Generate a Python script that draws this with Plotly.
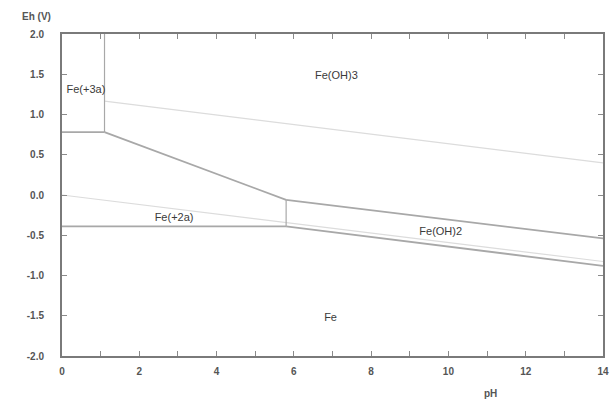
import plotly.graph_objects as go

# Boundary lines (pH, Eh)
fe3_fe2_ph = [0, 1.1]
fe3_fe2_eh = [0.78, 0.78]
fe3_feoh3_ph = [1.1, 1.1]
fe3_feoh3_eh = [0.78, 2.0]
fe2_feoh3_ph = [1.1, 5.8]
fe2_feoh3_eh = [0.78, -0.06]
feoh2_feoh3_ph = [5.8, 14]
feoh2_feoh3_eh = [-0.06, -0.54]
fe2_feoh2_ph = [5.8, 5.8]
fe2_feoh2_eh = [-0.39, -0.06]
fe2_fe_ph = [0, 5.8]
fe2_fe_eh = [-0.39, -0.39]
feoh2_fe_ph = [5.8, 14]
feoh2_fe_eh = [-0.39, -0.88]
# Water stability lines
o2_ph = [1.1, 14]
o2_eh = [1.165, 0.40]
h2_ph = [0, 14]
h2_eh = [0.0, -0.826]

# Region labels
label_text = ["Fe(+3a)", "Fe(OH)3", "Fe(+2a)", "Fe(OH)2", "Fe"]
label_ph = [0.62, 7.1, 2.9, 9.8, 6.95]
label_eh = [1.30, 1.48, -0.29, -0.46, -1.53]

x_ticks = [0, 2, 4, 6, 8, 10, 12, 14]
y_ticks = [2.0, 1.5, 1.0, 0.5, 0.0, -0.5, -1.0, -1.5, -2.0]

fig = go.Figure()

water_col = "#dcdcdc"
line_col = "#a8a8a8"
for xs, ys in [(o2_ph, o2_eh), (h2_ph, h2_eh)]:
    fig.add_trace(go.Scatter(x=xs, y=ys, mode="lines",
                             line=dict(color=water_col, width=1.2),
                             showlegend=False, hoverinfo="skip"))

for xs, ys, w in [(fe3_fe2_ph, fe3_fe2_eh, 1.8), (fe3_feoh3_ph, fe3_feoh3_eh, 1.2),
                  (fe2_feoh3_ph, fe2_feoh3_eh, 1.8), (feoh2_feoh3_ph, feoh2_feoh3_eh, 1.8),
                  (fe2_feoh2_ph, fe2_feoh2_eh, 1.2), (fe2_fe_ph, fe2_fe_eh, 1.8),
                  (feoh2_fe_ph, feoh2_fe_eh, 1.8)]:
    fig.add_trace(go.Scatter(x=xs, y=ys, mode="lines",
                             line=dict(color=line_col, width=w),
                             showlegend=False, hoverinfo="skip"))

fig.add_trace(go.Scatter(x=label_ph, y=label_eh, mode="text", text=label_text,
                         textfont=dict(family="Liberation Sans", size=11, color="#3a3a3a"),
                         showlegend=False, hoverinfo="skip"))

axis_common = dict(showgrid=False, zeroline=False, showline=True, linecolor="#7a7a7a",
                   linewidth=2, mirror="ticks", ticks="inside", ticklen=5,
                   tickcolor="#8a8a8a", tickwidth=1, automargin=False,
                   ticklabeloverflow="allow",
                   tickfont=dict(family="Liberation Sans", size=10, color="#555", weight="bold"))

fig.update_xaxes(range=[0, 14], tickvals=x_ticks, ticktext=[str(v) for v in x_ticks],
                 minor=dict(dtick=1, ticks="inside", ticklen=5, tickcolor="#8a8a8a"),
                 ticklabelstandoff=5, **axis_common)
fig.update_yaxes(range=[-2.0, 2.0], tickvals=y_ticks, ticktext=[f"{v:.1f}" for v in y_ticks],
                 ticklabelstandoff=14, **axis_common)

fig.update_layout(
    width=610, height=401,
    margin=dict(l=62, r=7, t=34, b=45, autoexpand=False),
    paper_bgcolor="white", plot_bgcolor="white",
    font=dict(family="Liberation Sans", color="#555"),
    annotations=[
        dict(text="<b>Eh (V)</b>", xref="paper", yref="paper",
             x=(36 - 62) / 541, y=1 + (34 - 16) / 322,
             xanchor="center", yanchor="middle", showarrow=False,
             font=dict(size=10, color="#555")),
        dict(text="<b>pH</b>", xref="paper", yref="paper",
             x=(490 - 62) / 541, y=-(393 - 356) / 322,
             xanchor="center", yanchor="middle", showarrow=False,
             font=dict(size=10, color="#555")),
    ],
)

# Remove the default 8px page margin so the figure sits at the window's corner.
fig.write_html("out.html",
               config={"displayModeBar": False},
               post_script="document.body.style.margin='0';document.body.style.overflow='hidden';")
